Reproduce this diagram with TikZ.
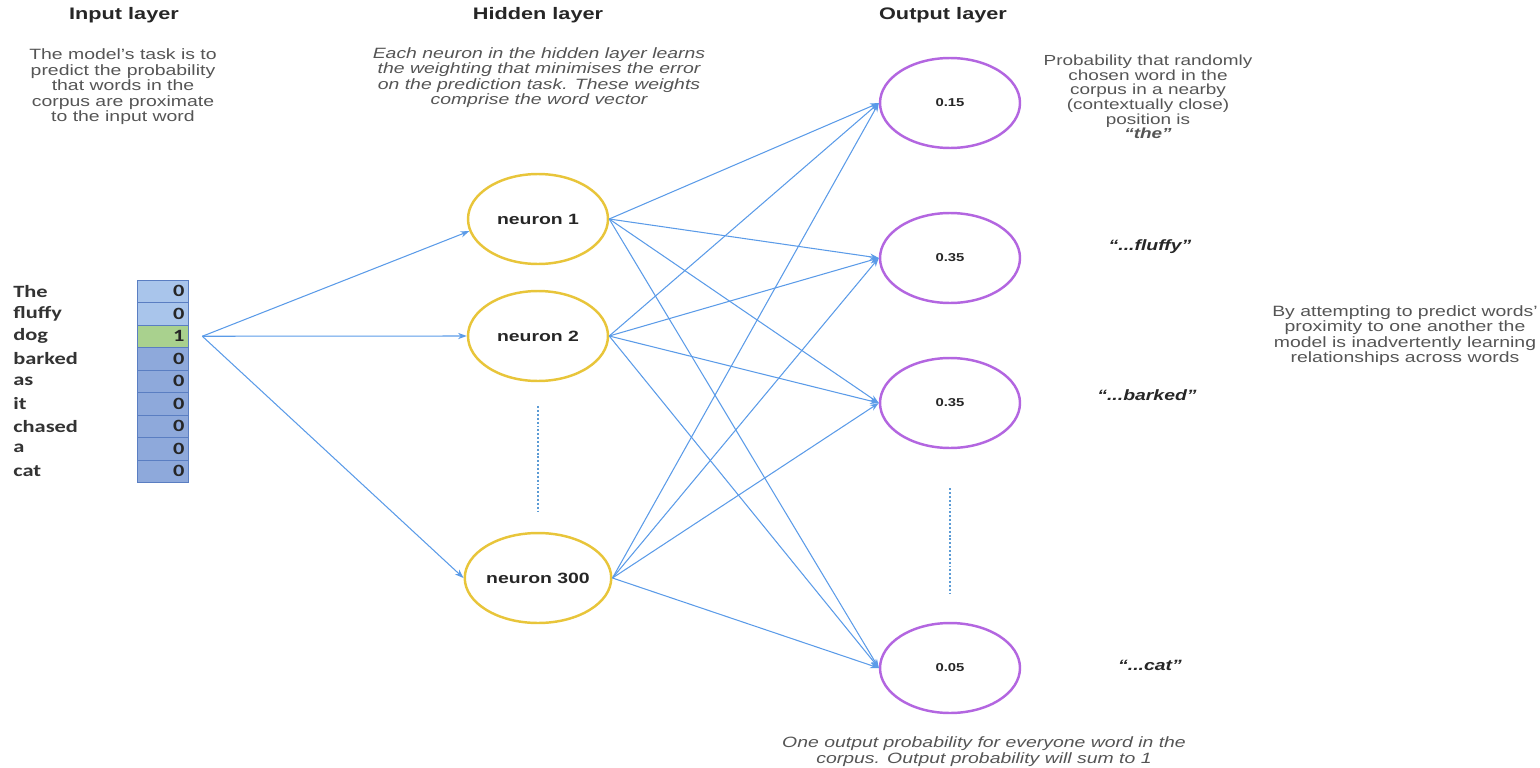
\documentclass[tikz,border=0pt]{standalone}
\usepackage{fontspec}
\setmainfont{Liberation Sans}
\newfontfamily\calibri{Carlito}
\usetikzlibrary{shapes.geometric,arrows.meta}
\definecolor{linkblue}{HTML}{5B9BE8}
\definecolor{dotblue}{HTML}{5B9BD5}
\definecolor{hidyellow}{HTML}{E8C53A}
\definecolor{outpurple}{HTML}{B366E0}
\definecolor{vlight}{HTML}{A9C5EB}
\definecolor{vgreen}{HTML}{A9D18E}
\definecolor{vmid}{HTML}{8EA9DB}
\definecolor{vline}{HTML}{5A7EC2}
\definecolor{txtgray}{HTML}{555555}
\newcommand{\widen}[1]{\scalebox{1.3}[1]{#1}}
\newcommand{\lines}[1]{\widen{\begin{tabular}{@{}c@{}}#1\end{tabular}}}
\tikzset{
  hidden/.style={
    ellipse,
    draw=hidyellow,
    line width=1.4pt,
    minimum width=2.8cm,
    minimum height=1.8cm,
    inner sep=0,
    text=black!85,
    font=\fontsize{8.5}{10}\selectfont\bfseries
  },
  output/.style={
    ellipse,
    draw=outpurple,
    line width=1.4pt,
    minimum width=2.8cm,
    minimum height=1.8cm,
    inner sep=0,
    text=black!85,
    font=\fontsize{6.5}{8}\selectfont\bfseries
  },
  link/.style={
    draw=linkblue,
    line width=0.6pt,
    -{Stealth[length=5pt,width=3.6pt]}
  },
  gap/.style={
    draw=dotblue,
    line width=1.3pt,
    dash pattern=on 1.1pt off 1.1pt
  },
  heading/.style={
    inner sep=0,
    text=black!85,
    font=\fontsize{9.5}{11}\selectfont\bfseries
  },
  note/.style={
    inner sep=0,
    text=txtgray,
    font=\fontsize{8.5}{8.7}\selectfont
  },
  italic/.style={
    note,
    font=\fontsize{8.5}{8.7}\selectfont\itshape
  },
  guess/.style={
    inner sep=0,
    text=black!85,
    font=\fontsize{8.5}{10}\selectfont\bfseries\itshape
  },
  cell/.style={
    draw=vline,
    line width=0.4pt,
    minimum height=0.45cm,
    text width=0.88cm,
    inner xsep=0.07cm,
    inner ysep=0,
    align=right,
    text=black!85,
    font=\calibri\fontsize{9.8}{11}\selectfont\bfseries
  },
  word/.style={
    anchor=west,
    inner sep=0,
    text=black!80,
    font=\calibri\fontsize{9.8}{11}\selectfont\bfseries
  }
}

\begin{document}
\begin{tikzpicture}[x=0.02cm, y=-0.02cm]
    \useasboundingbox (0,0) rectangle (1540,767);
    % layer titles
    \node[heading] (inhead) at (124,15) {\widen{Input layer}};
    \node[heading] (hidhead) at (538,15) {\widen{Hidden layer}};
    \node[heading] (outhead) at (943,15) {\widen{Output layer}};
    \node[note] (intext) at (123,87.5) {\lines{The model's task is to\\predict the probability\\that words in the\\corpus are proximate\\to the input word}};
    \node[italic] (hidtext) at (539,78.5) {\lines{Each neuron in the hidden layer learns\\the weighting that minimises the error\\on the prediction task. These weights\\comprise the word vector}};
    \node[note, font=\fontsize{8.3}{7.8}\selectfont] (outtext) at (1148,99) {\lines{Probability that randomly\\chosen word in the\\corpus in a nearby\\(contextually close)\\position is\\\textbf{\textit{“the”}}}};
    % one-hot input vector
    \foreach \lbl/\col/\val [count=\i] in {The/vlight/0,fluffy/vlight/0,dog/vgreen/1,barked/vmid/0,as/vmid/0,it/vmid/0,chased/vmid/0,a/vmid/0,cat/vmid/0}{
        \node[cell, fill=\col] (v\i) at (162.5,{280+22.5*\i-11.25}) {\widen{\val}};
        \node[word] (w\i) at (13,{280+22.5*\i-11.25}) {\widen{\lbl}};
    }
    \coordinate (src) at ([xshift=0.28cm]v3.east);
    % hidden layer
    \node[hidden] (n1) at (538,219) {\widen{neuron 1}};
    \node[hidden] (n2) at (538,336) {\widen{neuron 2}};
    \node[hidden] (n3) at (538,578) {\widen{neuron 300}};
    \draw[gap, shorten <=0.48cm, shorten >=0.42cm] (n2.south) -- (n3.north);
    % output layer
    \node[output] (o1) at (950,103) {\widen{0.15}};
    \node[output] (o2) at (950,258) {\widen{0.35}};
    \node[output] (o3) at (950,403) {\widen{0.35}};
    \node[output] (o4) at (950,668) {\widen{0.05}};
    \draw[gap, shorten <=0.78cm, shorten >=0.56cm] (o3.south) -- (o4.north);
    \node[guess] (g2) at (1150,247) {\widen{“...fluffy”}};
    \node[guess] (g3) at (1147,395) {\widen{“...barked”}};
    \node[guess] (g4) at (1150,665) {\widen{“...cat”}};
    % connections
    \draw[link] (src) -- (n1.190);
    \draw[link] (src) -- (n2.west);
    \draw[link] (src) -- (n3.west);
    \foreach \hid in {n1,n2,n3}
        \foreach \outn in {o1,o2,o3,o4}
            \draw[link] (\hid.east) -- (\outn.west);
    \node[note] (sidetext) at (1405,336.5) {\lines{By attempting to predict words'\\proximity to one another the\\model is inadvertently learning\\relationships across words}};
    \node[italic] (bottext) at (984,752.5) {\lines{One output probability for everyone word in the\\corpus. Output probability will sum to 1}};
\end{tikzpicture}
\end{document}
